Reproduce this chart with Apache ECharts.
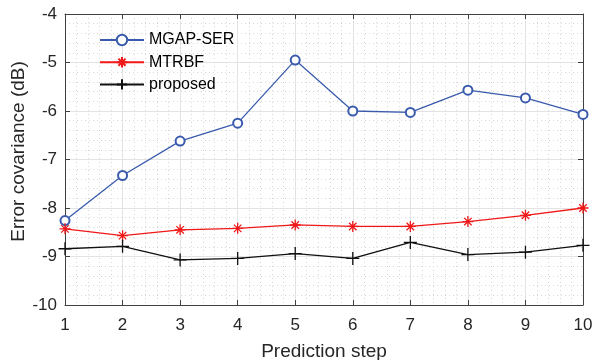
<!DOCTYPE html>
<html>
<head>
<meta charset="utf-8">
<script src="https://cdn.jsdelivr.net/npm/echarts@6/dist/echarts.min.js"></script>
<style>
  html, body { margin: 0; padding: 0; background: #fff; }
  #chart { width: 593px; height: 360px; }
</style>
</head>
<body>
<div id="chart"></div>
<script>
// Prediction steps along the x axis
const steps = [1, 2, 3, 4, 5, 6, 7, 8, 9, 10];

// Error covariance in dB for each method
const mgapSer = [-8.26, -7.33, -6.62, -6.25, -4.95, -6.00, -6.03, -5.57, -5.73, -6.07];
const mtrbf = [-8.43, -8.57, -8.45, -8.42, -8.35, -8.38, -8.38, -8.28, -8.15, -8.00];
const proposed = [-8.84, -8.79, -9.07, -9.04, -8.94, -9.04, -8.71, -8.96, -8.91, -8.77];

const seriesNames = ['MGAP-SER', 'MTRBF', 'proposed'];

// Marker outlines: eight-armed asterisk and plus sign
const starPath = 'path://M0,5L10,5M5,0L5,10M1.6,1.6L8.4,8.4M1.6,8.4L8.4,1.6';
const plusPath = 'path://M0,5L10,5M5,0L5,10';

const axisColor = '#404040';
const textColor = '#262626';
const fontFamily = '"Liberation Sans", Arial, Helvetica, sans-serif';

function pairs(values) {
  return steps.map((s, i) => [s, values[i]]);
}

const chart = echarts.init(document.getElementById('chart'), null, { renderer: 'canvas' });

// Top and right edges of the box, ticks only
const frameAxis = {
  axisLine: { show: true, onZero: false, lineStyle: { color: axisColor, width: 1 } },
  axisTick: { show: true, inside: true, length: 5, lineStyle: { color: axisColor } },
  axisLabel: { show: false },
  splitLine: { show: false }
};

const majorGrid = { show: true, lineStyle: { color: '#e3e3e3', width: 1 } };
const minorGrid = { show: true, lineStyle: { color: '#d8d8d8', width: 1, type: [1, 3] } };

chart.setOption({
  backgroundColor: '#ffffff',
  animation: false,
  textStyle: { fontFamily: fontFamily },
  grid: { left: 65, right: 10, top: 14, bottom: 55, containLabel: false, outerBoundsMode: 'none' },
  legend: {
    data: seriesNames,
    orient: 'vertical',
    left: 99,
    top: 32,
    padding: 0,
    itemWidth: 44,
    itemHeight: 13,
    itemGap: 6.2,
    textStyle: { color: '#000', fontSize: 16, lineHeight: 14, fontFamily: fontFamily }
  },
  xAxis: [
    {
      type: 'value', min: 1, max: 10, interval: 1,
      name: 'Prediction step', nameLocation: 'middle', nameGap: 37, nameMoveOverlap: false,
      nameTextStyle: { color: textColor, fontSize: 19, fontFamily: fontFamily },
      axisLine: { show: true, onZero: false, lineStyle: { color: axisColor, width: 1 } },
      axisTick: { show: true, inside: true, length: 5, lineStyle: { color: axisColor } },
      axisLabel: { color: textColor, fontSize: 17, margin: 12 },
      splitLine: majorGrid,
      minorTick: { show: false, splitNumber: 5 },
      minorSplitLine: minorGrid
    },
    Object.assign({ type: 'value', min: 1, max: 10, interval: 1, position: 'top' }, frameAxis)
  ],
  yAxis: [
    {
      type: 'value', min: -10, max: -4, interval: 1,
      name: 'Error covariance (dB)', nameLocation: 'middle', nameGap: 37, nameRotate: 90,
      nameMoveOverlap: false,
      nameTextStyle: { color: textColor, fontSize: 19, fontFamily: fontFamily, padding: [0, 0, 0, 16] },
      axisLine: { show: true, onZero: false, lineStyle: { color: axisColor, width: 1 } },
      axisTick: { show: true, inside: true, length: 5, lineStyle: { color: axisColor } },
      axisLabel: { color: textColor, fontSize: 17, margin: 8 },
      splitLine: majorGrid,
      minorTick: { show: false, splitNumber: 5 },
      minorSplitLine: minorGrid
    },
    Object.assign({ type: 'value', min: -10, max: -4, interval: 1, position: 'right' }, frameAxis)
  ],
  series: [
    {
      name: seriesNames[0], type: 'line', data: pairs(mgapSer),
      symbol: 'emptyCircle', symbolSize: 9, showAllSymbol: true,
      lineStyle: { color: '#3a5bad', width: 1.3 },
      itemStyle: { color: '#3a5bad', borderColor: '#3a5bad', borderWidth: 1.4 },
      emphasis: { disabled: true }
    },
    {
      name: seriesNames[1], type: 'line', data: pairs(mtrbf),
      symbol: starPath, symbolSize: 11, showAllSymbol: true,
      lineStyle: { color: '#f01818', width: 1.3 },
      itemStyle: { color: '#f01818', borderColor: '#f01818', borderWidth: 1.3 },
      emphasis: { disabled: true }
    },
    {
      name: seriesNames[2], type: 'line', data: pairs(proposed),
      symbol: plusPath, symbolSize: 13, showAllSymbol: true,
      lineStyle: { color: '#111111', width: 1.3 },
      itemStyle: { color: '#111111', borderColor: '#111111', borderWidth: 1.3 },
      emphasis: { disabled: true }
    }
  ]
});
</script>
</body>
</html>
